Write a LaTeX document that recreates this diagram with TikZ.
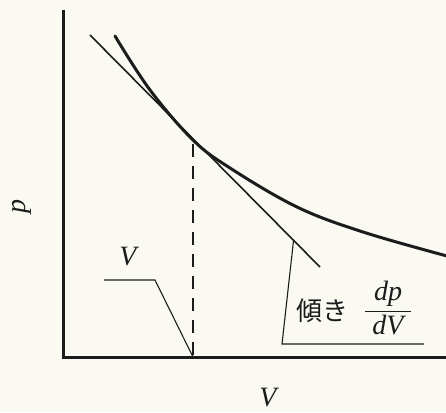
\documentclass[tikz,border=0pt]{standalone}
\usepackage{fontspec}
\usetikzlibrary{calc}
\setmainfont{Liberation Serif}
\newfontfamily\jpfont{Noto Sans CJK JP}
\definecolor{paper}{RGB}{250,250,243}
\definecolor{ink}{RGB}{28,28,28}
\begin{document}
\begin{tikzpicture}[x=1pt,y=-1pt,
  axisline/.style={draw=ink,line width=3pt},
  curveline/.style={draw=ink,line width=3pt,line cap=round},
  tanline/.style={draw=ink,line width=1.6pt},
  leader/.style={draw=ink,line width=1.1pt},
  dashline/.style={draw=ink,line width=1.5pt,dash pattern=on 13pt off 9pt},
  lbl/.style={text=ink,inner sep=0pt,font=\fontsize{28}{30}\selectfont\itshape},
  jlbl/.style={text=ink,inner sep=0pt,font=\fontsize{26}{30}\jpfont}]
\fill[paper] (0,0) rectangle (446,412);
\useasboundingbox (0,0) rectangle (446,412);
% axes
\coordinate (ytop) at (63,10);
\coordinate (O) at (63,357);
\coordinate (xend) at (447,357);
\draw[axisline] (ytop) -- (O) -- (xend);
% curve
\draw[curveline] plot[smooth,tension=0.6] coordinates {(115,36) (150,90) (193,140) (230,168) (297,207) (363,232) (447,256)};
% tangent
\coordinate (L1) at (90,35);
\coordinate (L2) at (320,267);
\coordinate (T) at (193,140);
\draw[tanline] (L1) -- (L2);
% dashed drop
\coordinate (F) at (193,357);
\draw[dashline] (T) ++(0,4) -- (F);
% V leader
\coordinate (VA) at (104,280);
\coordinate (VB) at (155,280);
\draw[leader] (VA) -- (VB) -- (F);
\node[lbl] (vlab) at (128,257) {V};
% slope leader
\coordinate (SA) at ($(L1)!0.885!(L2)$);
\coordinate (SB) at (282,344);
\coordinate (SC) at (424,344);
\draw[leader] (SA) -- (SB) -- (SC);
\node[jlbl] (slab) at (322,311) {傾き};
\node[text=ink,inner sep=0pt,font=\fontsize{28}{30}\selectfont\itshape] (frac) at (388,308)
  {$\displaystyle\frac{\hbox{\hspace{9pt}dp\hspace{9pt}}}{\hbox{dV}}$};
% axis labels
\node[lbl] (plab) at (22,206) [rotate=90] {p};
\node[lbl] (xlab) at (268,398) {V};
\end{tikzpicture}
\end{document}
